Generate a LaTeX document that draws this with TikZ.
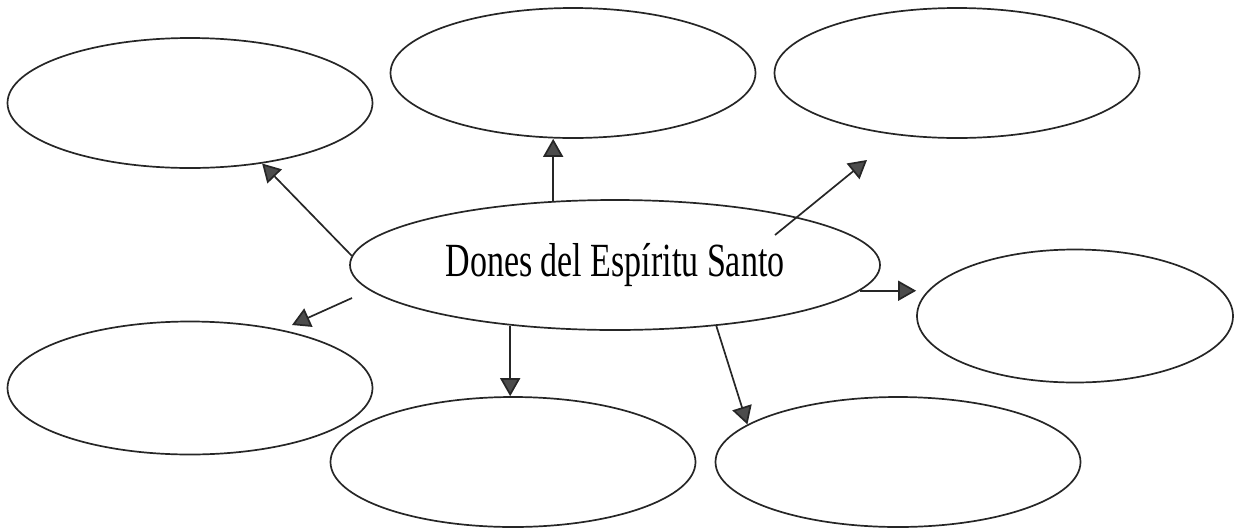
\documentclass[tikz,border=0pt]{standalone}
\usepackage{fontspec}
\setmainfont{Liberation Serif}
\usepackage{graphicx}
\usetikzlibrary{shapes.geometric,arrows.meta}
\begin{document}
\begin{tikzpicture}[x=1pt,y=-1pt,
  bubble/.style={ellipse,draw=black!85,line width=1.7pt,inner sep=0pt,
     minimum width=#1},
  bubble/.default=365pt,
  link/.style={draw=black!85,line width=1.7pt,
     -{Triangle[length=18pt,width=20pt,fill=black!70]}}]
\useasboundingbox (0,0) rectangle (1237,531);
\node[bubble, minimum height=130pt] (TL) at (190,103) {};
\node[bubble, minimum height=130pt] (TM) at (573,73) {};
\node[bubble, minimum height=130pt] (TR) at (957,73) {};
\node[bubble=530pt, minimum height=130pt] (C) at (615,265)
  {\fontsize{34}{40}\selectfont\scalebox{1}[1.4]{Dones del Espíritu Santo}};
\node[bubble=316pt, minimum height=133pt] (R) at (1075,316) {};
\node[bubble, minimum height=133pt] (BL) at (190,388) {};
\node[bubble, minimum height=130pt] (BM) at (513,462) {};
\node[bubble, minimum height=130pt] (BR) at (898,462) {};
\coordinate (trs) at (775,235);
\coordinate (tre) at (867,160);
\coordinate (bls) at (352,298);
\coordinate (ble) at (292,325);
\draw[link] (C.178.5) -- (TL.-40);
\draw[link] (C.134.5) -- (C.134.5 |- TM.south);
\draw[link] (trs) -- (tre);
\draw[link] (C.-6.6) -- (C.-6.6 -| R.west);
\draw[link] (bls) -- (ble);
\draw[link] (C.210.5) -- (C.210.5 |- BM.north);
\draw[link] (C.-31) -- (BR.166);
\end{tikzpicture}
\end{document}
